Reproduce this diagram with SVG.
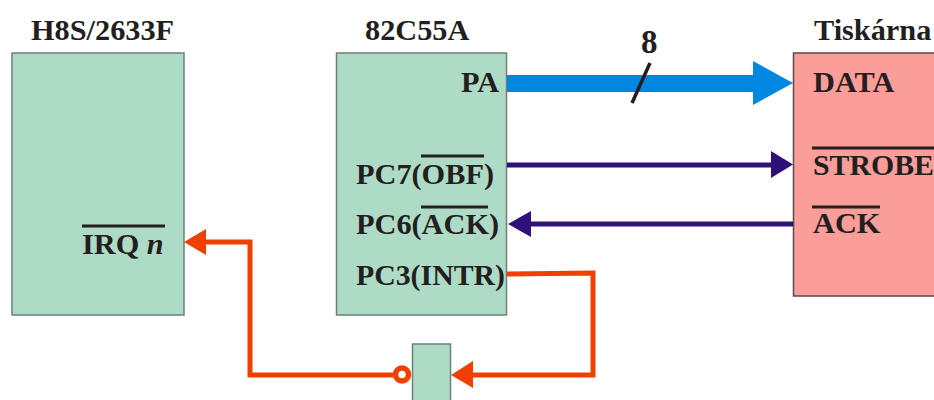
<svg xmlns="http://www.w3.org/2000/svg" width="934" height="400" viewBox="0 0 934 400">
<style>
text{font-family:"Liberation Serif","Times New Roman",serif;font-weight:700;font-size:30.300px;fill:#231f20}
.g{fill:#aedbc6;stroke:#6f7f78;stroke-width:1.5}
.p{fill:#fb9d99;stroke:#5c4a4a;stroke-width:1.5}
.o{fill:none;stroke:#ef4000;stroke-width:5}
.ov{stroke:#231f20;stroke-width:3;fill:none}
.n{fill:none;stroke:#2f0f78;stroke-width:5}
.s{font-size:29.800px}
</style>
<rect width="934" height="400" fill="#fff"/>
<g id="h8s">
<rect class="g" x="12" y="53" width="172" height="262"/>
<text x="31" y="40">H8S/2633F</text>
<text x="82" y="254">IRQ <tspan font-style="italic">n</tspan></text>
<line class="ov" x1="82" y1="226" x2="165" y2="226"/>
</g>
<g id="ppi">
<rect class="g" x="336.500" y="53" width="170" height="262"/>
<text x="365" y="40">82C55A</text>
<text x="461" y="92">PA</text>
<text x="356" y="184">PC7(OBF)</text>
<line class="ov" x1="421" y1="156" x2="484" y2="156"/>
<text x="356" y="234">PC6(ACK)</text>
<line class="ov" x1="421" y1="207" x2="488" y2="207"/>
<text class="s" x="356" y="285">PC3(INTR)</text>
</g>
<g id="printer">
<rect class="p" x="793.500" y="53" width="150" height="243"/>
<text x="814" y="40">Tiskárna</text>
<text x="813" y="92">DATA</text>
<text class="s" x="813" y="175">STROBE</text>
<line class="ov" x1="812" y1="148" x2="934" y2="148"/>
<text x="813" y="233">ACK</text>
<line class="ov" x1="812" y1="207" x2="880" y2="207"/>
</g>
<g id="latch">
<rect class="g" x="412.500" y="344" width="38" height="60"/>
</g>
<g id="connectors">
<rect x="507" y="75" width="247" height="17" fill="#0088e0"/>
<polygon points="753,61 793,83 753,105" fill="#0088e0"/>
<line x1="632" y1="103" x2="650" y2="63" stroke="#231f20" stroke-width="3.500"/>
<line class="n" x1="507" y1="165" x2="772" y2="165"/>
<polygon points="771,151 793,164.500 771,178" fill="#2f0f78"/>
<line class="n" x1="530" y1="224" x2="793" y2="224"/>
<polygon points="508,224 531,211 531,237" fill="#2f0f78"/>
<polyline class="o" points="507,274 593,273 593,375 472,375"/>
<polygon points="451,375 473,361 473,388" fill="#ef4000"/>
<polyline class="o" points="394,375 250,375 250,242 205,242"/>
<polygon points="184,242 206,229 206,255" fill="#ef4000"/>
<circle cx="402" cy="374.500" r="6.500" fill="#fff" stroke="#ef4000" stroke-width="5.500"/>
</g>
<text x="641" y="53" style="font-size:33px">8</text>
</svg>
